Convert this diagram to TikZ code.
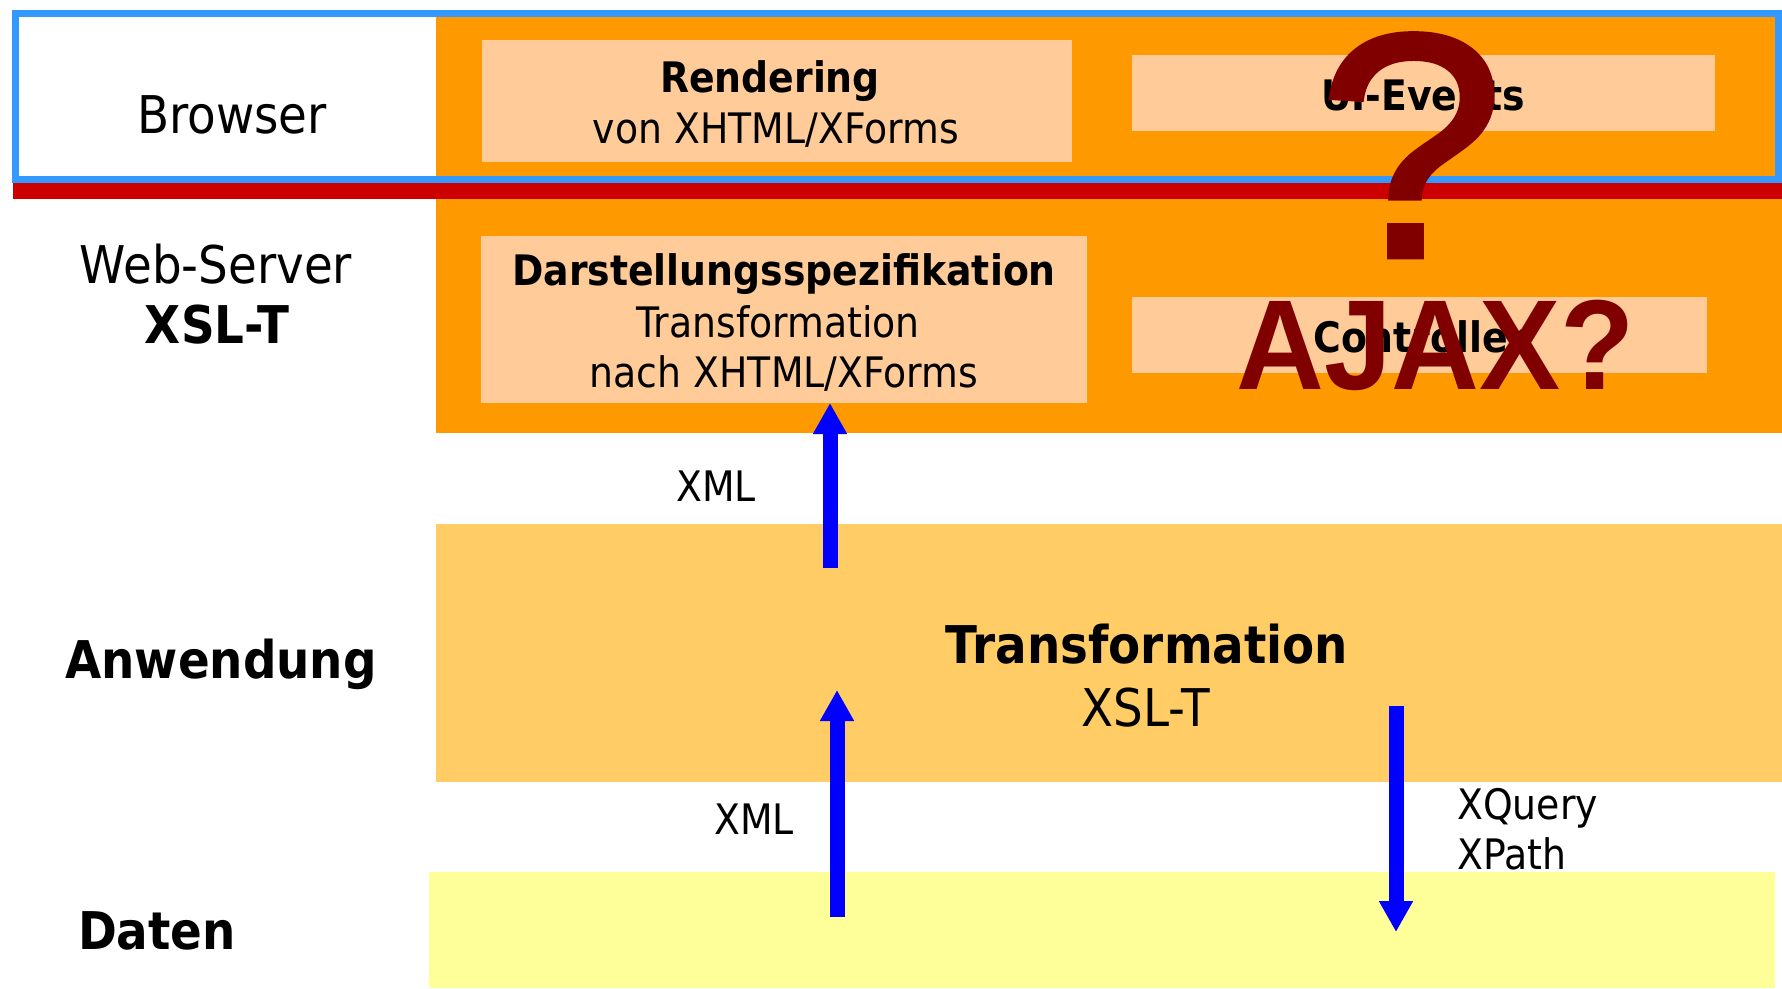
\documentclass[tikz,border=0pt]{standalone}
\usepackage{fontspec}
\setmainfont{DejaVu Sans}[FakeStretch=0.9]
\newfontfamily\bigfont{Liberation Sans}[FakeStretch=0.95]
\newfontfamily\qfont{Liberation Sans}[FakeStretch=1.05,FakeBold=1.5]
\usetikzlibrary{arrows.meta}
\definecolor{orangeC}{HTML}{FF9900}
\definecolor{peach}{HTML}{FFCC99}
\definecolor{bandC}{HTML}{FFCC66}
\definecolor{dataC}{HTML}{FFFF99}
\definecolor{browserC}{HTML}{3399FF}
\definecolor{redbar}{HTML}{CC0000}
\definecolor{ajaxC}{HTML}{800000}
\definecolor{arrowC}{HTML}{0000FF}
\begin{document}
\begin{tikzpicture}[x=1pt,y=-1pt,
  region/.style={fill=#1, draw=none, inner sep=0pt, outer sep=0pt, anchor=north west},
  bigtxt/.style={inner sep=0pt, anchor=base, font=\fontsize{52}{60}\selectfont},
  bigbold/.style={inner sep=0pt, anchor=base, font=\fontsize{52}{60}\selectfont\bfseries},
  midtxt/.style={inner sep=0pt, anchor=base, font=\fontsize{42}{50}\selectfont},
  midbold/.style={inner sep=0pt, anchor=base, font=\fontsize{42}{50}\selectfont\bfseries},
  flow/.style={draw=arrowC, line width=15pt, -{Triangle[width=32pt,length=31pt]}},
  ajax/.style={inner sep=0pt, text=ajaxC}
]
\useasboundingbox (0,0) rectangle (1782,988);
\fill[white] (0,0) rectangle (1782,988);

% layer regions
\node[region=orangeC, minimum width=1346pt, minimum height=420pt] (web) at (436,13) {};
\node[region=bandC, minimum width=1346pt, minimum height=258pt] (app) at (436,524) {};
\node[region=dataC, minimum width=1346pt, minimum height=116pt] (data) at (429,872) {};

% inner boxes
\node[region=peach, minimum width=590pt, minimum height=122pt] (rend) at (482,40) {};
\node[region=peach, minimum width=583pt, minimum height=76pt] (uiev) at (1132,55) {};
\node[region=peach, minimum width=606pt, minimum height=167pt] (darst) at (481,236) {};
\node[region=peach, minimum width=575pt, minimum height=76pt] (ctrl) at (1132,297) {};

% browser frame and red separator
\node[draw=browserC, line width=7pt, fill=none, inner sep=0pt, anchor=north west,
      minimum width=1763pt, minimum height=166.5pt] (browser) at (12,9.5) {};
\node[region=redbar, minimum width=1769pt, minimum height=16pt] (sep) at (13,183) {};

% left labels
\node[bigtxt] (lbrowser) at (232,133) {Browser};
\node[bigtxt] (lweb) at (216,283) {Web-Server};
\node[bigbold] (lxslt) at (217,343) {XSL-T};
\node[bigbold] (lanw) at (221,678) {Anwendung};
\node[bigbold] (ldaten) at (157,949) {Daten};

% box texts
\node[midbold] (trend1) at (770,92) {Rendering};
\node[midtxt] (trend2) at (776,143) {von XHTML/XForms};
\node[midbold] (tuiev) at (1423,110) {UI-Events};
\node[midbold] (tdarst1) at (784,285) {Darstellungsspezifikation};
\node[midtxt] (tdarst2) at (778,337) {Transformation};
\node[midtxt] (tdarst3) at (784,387) {nach XHTML/XForms};
\node[midbold] (tctrl) at (1420,352) {Controller};

% application band text
\node[bigbold] (tapp1) at (1147,663) {Transformation};
\node[bigtxt] (tapp2) at (1146,726) {XSL-T};

% arrows
\coordinate (a1s) at (830,568);
\draw[flow] (a1s) -- (a1s |- darst.south);
\coordinate (a2s) at (837,917);
\coordinate (a2e) at (837,690);
\draw[flow] (a2s) -- (a2e);
\coordinate (a3s) at (1396,706);
\coordinate (a3e) at (1396,932);
\draw[flow] (a3s) -- (a3e);

% arrow labels
\node[midtxt] (xml1) at (716,501) {XML};
\node[midtxt] (xml2) at (754,834) {XML};
\node[midtxt, anchor=base west] (xq) at (1457,819) {XQuery};
\node[midtxt, anchor=base west] (xp) at (1457,869) {XPath};

% overlay question
\node[ajax, anchor=base, font=\qfont\fontsize{320}{320}\selectfont] (qmark) at (1411,257) {?};
\node[ajax, anchor=base west, font=\bigfont\bfseries\fontsize{128}{128}\selectfont] (ajaxq) at (1236,389) {AJAX?};
\end{tikzpicture}
\end{document}
